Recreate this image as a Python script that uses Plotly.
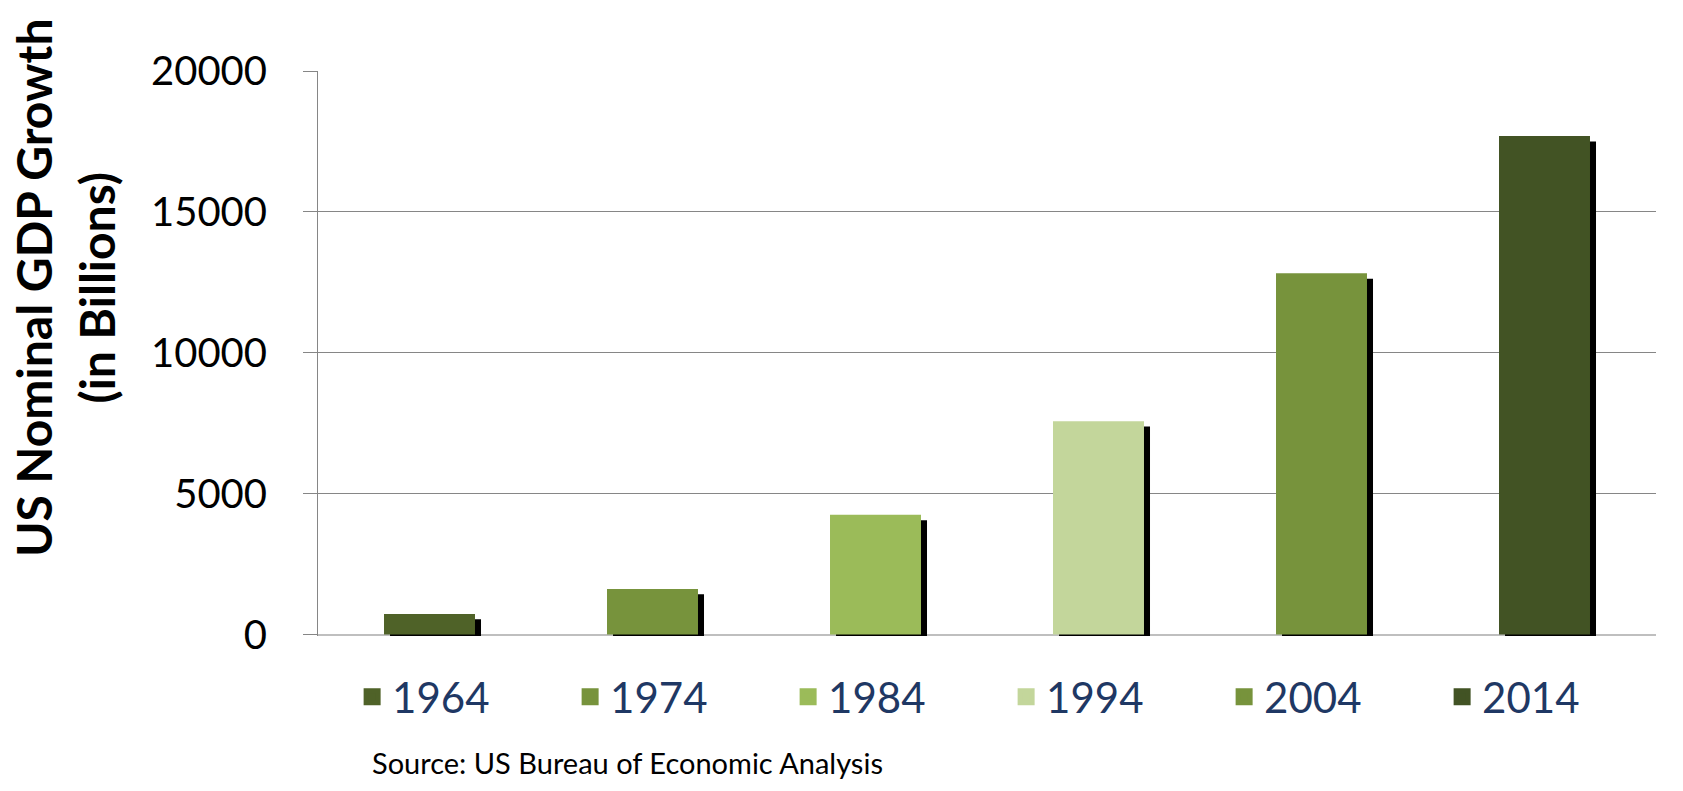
import plotly.graph_objects as go

years = ["1964", "1974", "1984", "1994", "2004", "2014"]
gdp_billions = [735, 1620, 4250, 7570, 12820, 17690]
bar_colors = ["#4F6228", "#77933C", "#9BBB59", "#C3D69B", "#77933C", "#425324"]
y_ticks = [0, 5000, 10000, 15000, 20000]
y_title = "US Nominal GDP Growth<br>(in Billions)"
source_text = "Source: US Bureau of Economic Analysis"

BAR_W = 0.408
SHADOW_DX = 0.027
SHADOW_DY = 188

fig = go.Figure()

# drop shadow behind each bar
fig.add_trace(go.Bar(
    x=years, y=gdp_billions, base=-SHADOW_DY,
    width=BAR_W, offset=-BAR_W / 2 + SHADOW_DX,
    marker=dict(color="#000000", line=dict(width=0)),
    showlegend=False, hoverinfo="skip",
))

for yr, val, col in zip(years, gdp_billions, bar_colors):
    fig.add_trace(go.Bar(
        x=[yr], y=[val], name=yr, legendgroup=yr,
        width=BAR_W, offset=-BAR_W / 2,
        marker=dict(color=col, line=dict(width=0)),
        showlegend=False,
    ))

# legend entries (larger swatches, no drawn bars)
for yr, col in zip(years, bar_colors):
    fig.add_trace(go.Bar(
        x=[yr], y=[None], name=yr, legendgroup=yr,
        marker=dict(color=col, line=dict(width=10, color=col)),
        showlegend=True, hoverinfo="skip",
    ))

fig.update_layout(
    width=1683, height=791,
    barmode="overlay",
    paper_bgcolor="white", plot_bgcolor="white",
    margin=dict(l=310, r=35, t=63, b=163, autoexpand=False),
    font=dict(family="Lato, 'Open Sans', sans-serif", color="#000000"),
    legend=dict(
        orientation="h", x=0.0255, y=-0.108, xanchor="left", yanchor="middle",
        font=dict(size=42, color="#1F3864"),
        entrywidth=173, entrywidthmode="pixels",
        traceorder="normal",
    ),
    xaxis=dict(
        type="category", showticklabels=False, showgrid=False,
        showline=False, ticks="", zeroline=False,
    ),
    yaxis=dict(
        range=[-50, 20000], tickvals=y_ticks,
        ticktext=[str(v) for v in y_ticks],
        tickfont=dict(size=40, color="#000000"),
        showgrid=True, gridcolor="#868686", gridwidth=1,
        ticks="outside", ticklen=14, tickcolor="#868686", tickwidth=1,
        showline=True, linecolor="#868686", linewidth=1,
        zeroline=True, zerolinecolor="#BFBFBF", zerolinewidth=2,
        ticklabelstandoff=28,
    ),
    annotations=[
        dict(
            text=y_title, xref="paper", yref="paper",
            x=-0.189, y=0.616, xanchor="center", yanchor="middle",
            textangle=-90, showarrow=False,
            font=dict(size=48, color="#000000", family="Lato, sans-serif", weight="bold"),
        ),
        dict(
            text=source_text, xref="paper", yref="paper",
            x=0.039, y=-0.224, xanchor="left", yanchor="middle",
            showarrow=False,
            font=dict(size=29, color="#000000"),
        ),
    ],
)

fig.write_html("out.html")
